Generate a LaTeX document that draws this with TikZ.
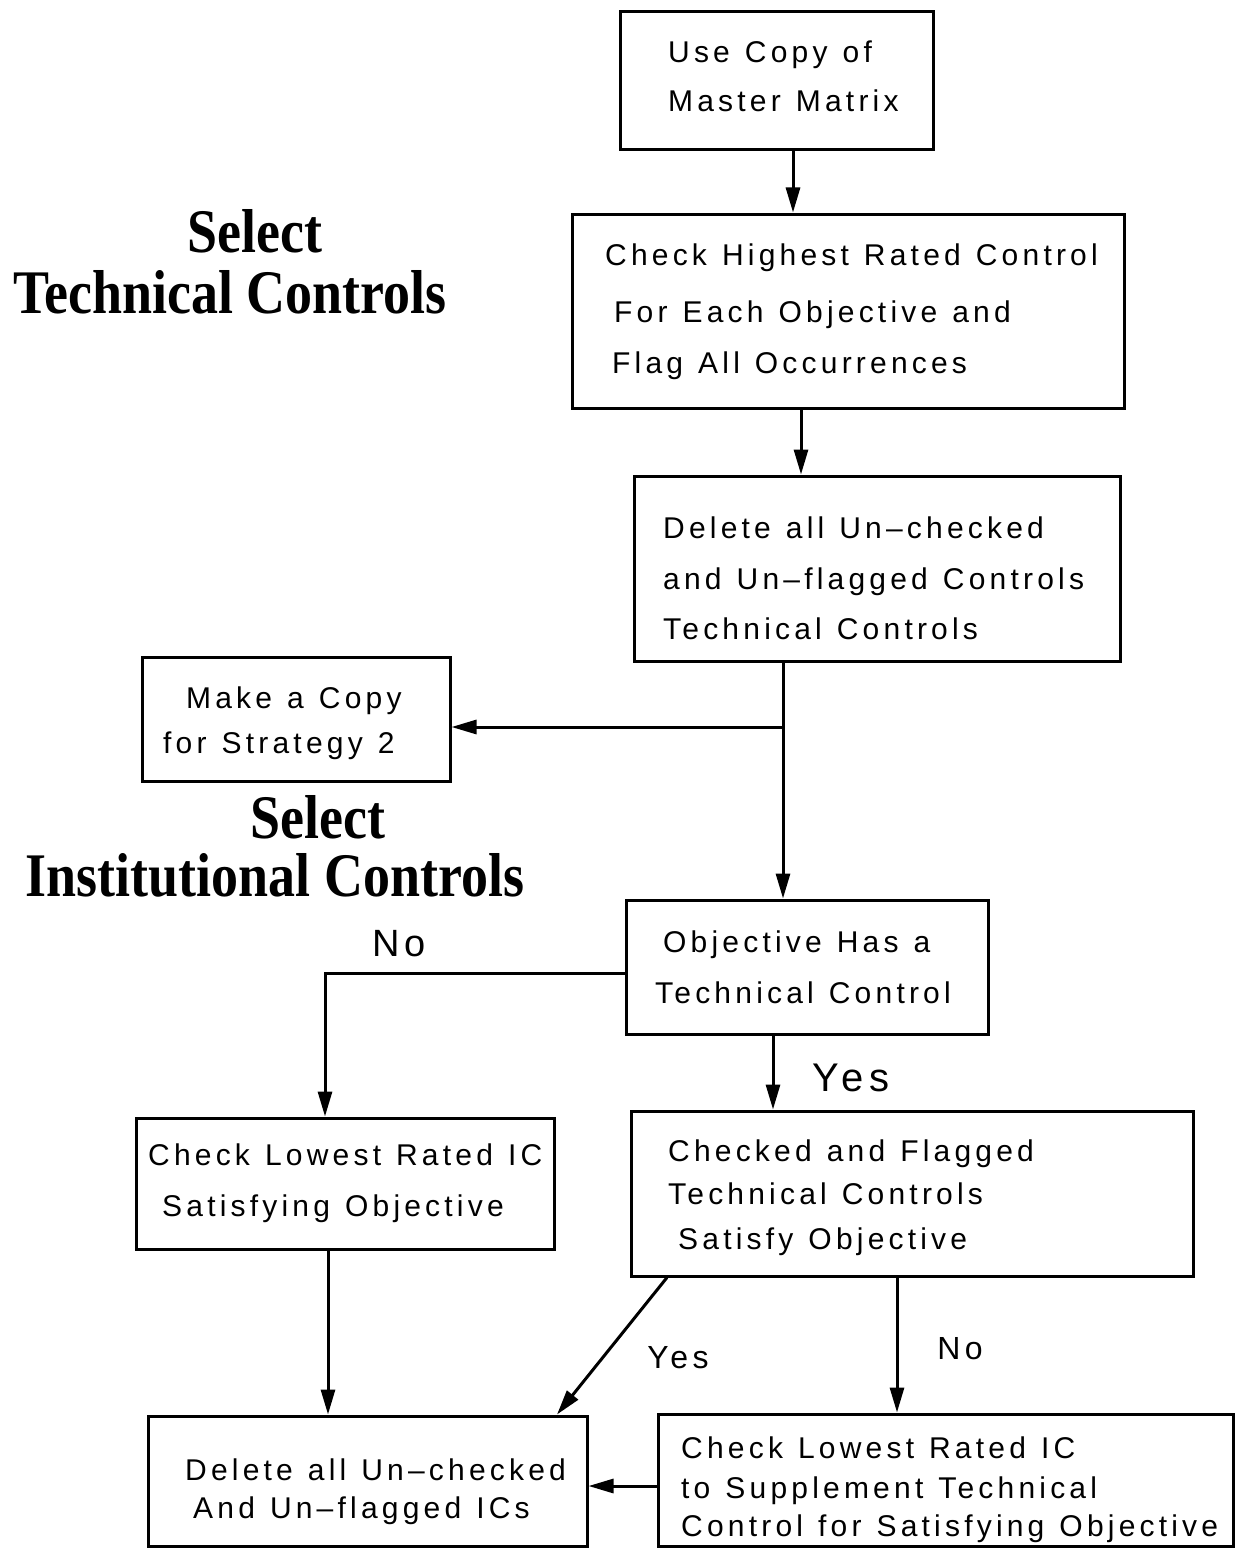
\documentclass[tikz,border=0pt]{standalone}
\usepackage{fontspec}
\setmainfont{Liberation Serif}
\newfontfamily\boxfont[LetterSpace=14,WordSpace=1.2]{Liberation Sans}
\usetikzlibrary{arrows.meta}
\tikzset{
  box/.style={draw, line width=3pt, inner sep=0pt, rectangle},
  lbl/.style={anchor=base west, inner sep=0pt, font=\boxfont\fontsize{30}{30}\selectfont},
  ttl/.style={anchor=base, inner sep=0pt, font=\bfseries\fontsize{62}{62}\selectfont},
  yn/.style={anchor=base, inner sep=0pt, font=\boxfont\fontsize{32}{32}\selectfont},
  ynbig/.style={anchor=base, inner sep=0pt, font=\boxfont\fontsize{40}{40}\selectfont},
  arr/.style={line width=3pt, -{Triangle[length=25pt,width=14pt]}},
  ln/.style={line width=3pt}
}
\begin{document}
\begin{tikzpicture}[x=1pt,y=-1pt]
\useasboundingbox (0,0) rectangle (1239,1549);
% boxes
\node[box, minimum width=313pt, minimum height=138pt] (b1) at (776.5,81) {};
\node[box, minimum width=552pt, minimum height=194pt] (b2) at (848,311) {};
\node[box, minimum width=486pt, minimum height=185pt] (b3) at (877,568.5) {};
\node[box, minimum width=308pt, minimum height=124pt] (b4) at (296,719) {};
\node[box, minimum width=362pt, minimum height=134pt] (b5) at (807,967) {};
\node[box, minimum width=418pt, minimum height=131pt] (b6) at (345,1183.5) {};
\node[box, minimum width=562pt, minimum height=165pt] (b7) at (912,1193.5) {};
\node[box, minimum width=439pt, minimum height=130pt] (b8) at (367.5,1481) {};
\node[box, minimum width=575pt, minimum height=132pt] (b9) at (945.5,1480) {};
% texts
\node[lbl] (t1a) at (668,63) {Use Copy of};
\node[lbl] (t1b) at (668,112) {Master Matrix};
\node[lbl] (t2a) at (605,265) {Check Highest Rated Control};
\node[lbl] (t2b) at (614,322) {For Each Objective and};
\node[lbl] (t2c) at (612,373) {Flag All Occurrences};
\node[lbl] (t3a) at (663,538) {Delete all Un–checked};
\node[lbl] (t3b) at (663,589) {and Un–flagged Controls};
\node[lbl] (t3c) at (663,639) {Technical Controls};
\node[lbl] (t4a) at (186,708) {Make a Copy};
\node[lbl] (t4b) at (163,753) {for Strategy 2};
\node[lbl] (t5a) at (663,952) {Objective Has a};
\node[lbl] (t5b) at (655,1003) {Technical Control};
\node[lbl] (t6a) at (148,1165) {Check Lowest Rated IC};
\node[lbl] (t6b) at (162,1216) {Satisfying Objective};
\node[lbl] (t7a) at (668,1161) {Checked and Flagged};
\node[lbl] (t7b) at (668,1204) {Technical Controls};
\node[lbl] (t7c) at (678,1249) {Satisfy Objective};
\node[lbl] (t8a) at (185,1480) {Delete all Un–checked};
\node[lbl] (t8b) at (193,1518) {And Un–flagged ICs};
\node[lbl] (t9a) at (681,1458) {Check Lowest Rated IC};
\node[lbl] (t9b) at (681,1498) {to Supplement Technical};
\node[lbl] (t9c) at (681,1536) {Control for Satisfying Objective};
% titles
\node[ttl] (h1) at (255,252) {\scalebox{0.87}[1]{Select}};
\node[ttl] (h2) at (230,313) {\scalebox{0.87}[1]{Technical Controls}};
\node[ttl] (h3) at (318,838) {\scalebox{0.87}[1]{Select}};
\node[ttl] (h4) at (275,896) {\scalebox{0.87}[1]{Institutional Controls}};
% labels
\node[yn, font=\boxfont\fontsize{38}{38}\selectfont] (n1) at (399,956) {No};
\node[ynbig] (y1) at (851,1091) {Yes};
\node[yn] (y2) at (678,1368) {Yes};
\node[yn] (n2) at (960,1359) {No};
% connectors
\draw[arr] (793,0 |- b1.south) -- (793,0 |- b2.north);
\draw[arr] (801,0 |- b2.south) -- (801,0 |- b3.north);
\coordinate (j1) at (783,727);
\draw[arr] (783,0 |- b3.south) -- (783,0 |- b5.north);
\draw[arr] (j1) -- (b4.east |- j1);
\draw[arr] (b5.west |- 0,973) -| (325,0 |- b6.north);
\draw[arr] (773,0 |- b5.south) -- (773,0 |- b7.north);
\draw[arr] (328,0 |- b6.south) -- (328,0 |- b8.north);
\draw[arr] (667,0 |- b7.south) -- (557,0 |- b8.north);
\draw[arr] (897,0 |- b7.south) -- (897,0 |- b9.north);
\draw[arr] (b9.west |- 0,1486) -- (b8.east |- 0,1486);
\end{tikzpicture}
\end{document}
